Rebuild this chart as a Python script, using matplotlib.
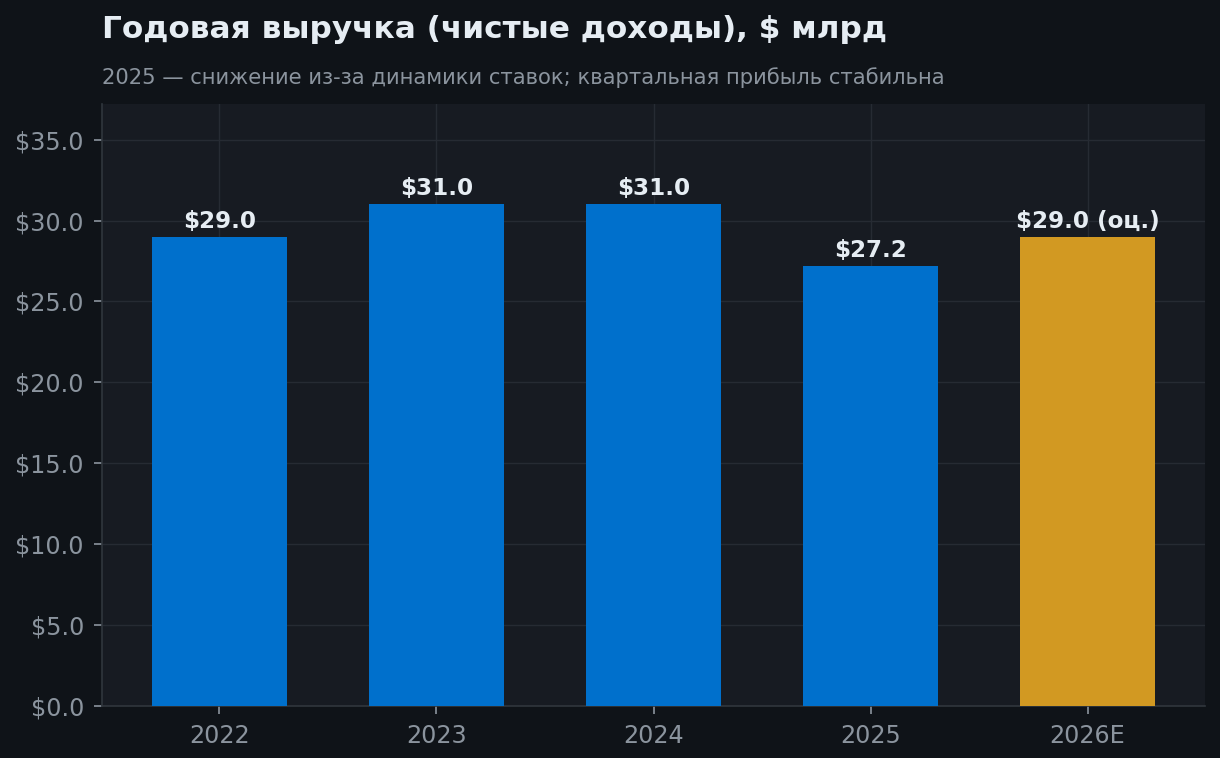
import matplotlib
matplotlib.use("Agg")
import matplotlib.pyplot as plt
from matplotlib.ticker import FuncFormatter

years = ["2022", "2023", "2024", "2025", "2026E"]
revenue = [29.0, 31.0, 31.0, 27.2, 29.0]
is_estimate = [False, False, False, False, True]

bg = "#0f1318"
panel = "#171b22"
blue = "#0070cc"
gold = "#d29922"
text_main = "#e6edf3"
text_dim = "#8b949e"
grid_c = "#262b33"
spine_c = "#30363d"

plt.rcParams['font.family'] = ['DejaVu Sans']

fig = plt.figure(figsize=(6.1, 3.79), dpi=200, facecolor=bg)
# axes in pixel coords: left 102, right 1205, top 104, bottom 706
W, H = 1220, 758
ax = fig.add_axes([102 / W, 1 - 706 / H, (1205 - 102) / W, (706 - 104) / H])
ax.set_facecolor(panel)

colors = [gold if e else blue for e in is_estimate]
x = list(range(len(years)))
bars = ax.bar(x, revenue, width=0.62, color=colors, zorder=3)

for b, v, e in zip(bars, revenue, is_estimate):
    lab = f"${v:.1f}" + (" (оц.)" if e else "")
    ax.annotate(lab, (b.get_x() + b.get_width() / 2, v), xytext=(0, 1.5),
                textcoords="offset points", ha="center", va="bottom",
                fontsize=8.3, fontweight="bold", color=text_main, zorder=4)

ax.set_xticks(x)
ax.set_xticklabels(years)
ax.set_ylim(0, max(revenue) * 1.2)
ax.yaxis.set_major_formatter(FuncFormatter(lambda v, p: f"${v:.1f}"))

ax.grid(True, color=grid_c, linewidth=0.5, zorder=0)
ax.set_axisbelow(True)
for s in ["top", "right"]:
    ax.spines[s].set_visible(False)
for s in ["left", "bottom"]:
    ax.spines[s].set_color(spine_c)
    ax.spines[s].set_linewidth(0.6)
ax.tick_params(colors=text_dim, labelsize=8.6, length=3, width=0.6)

fig.text(102 / W, 1 - 29 / H, "Годовая выручка (чистые доходы), $ млрд",
         fontsize=11.2, fontweight="bold", color=text_main, va="center", ha="left")
fig.text(102 / W, 1 - 78 / H,
         "2025 — снижение из-за динамики ставок; квартальная прибыль стабильна",
         fontsize=7.6, color=text_dim, va="center", ha="left")

fig.savefig("out.png", dpi=200, facecolor=bg)
